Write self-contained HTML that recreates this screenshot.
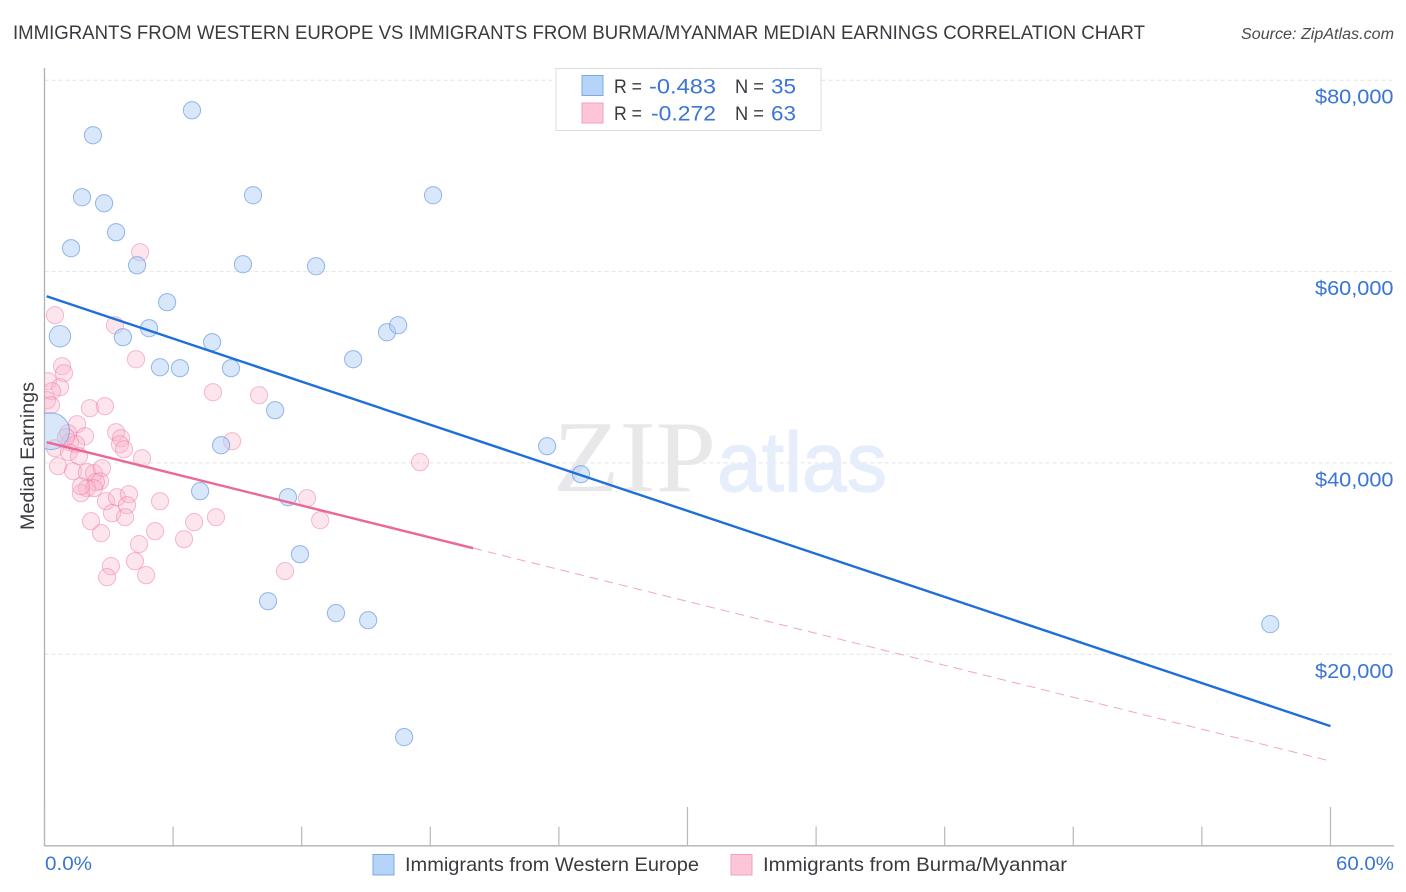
<!DOCTYPE html>
<html lang="en">
<head>
<meta charset="utf-8">
<title>Immigrants from Western Europe vs Immigrants from Burma/Myanmar Median Earnings Correlation Chart</title>
<style>
html,body{margin:0;padding:0;background:#fff;width:1406px;height:892px;overflow:hidden}
svg{display:block;font-family:"Liberation Sans",sans-serif}
</style>
</head>
<body>
<svg id="chart" xmlns="http://www.w3.org/2000/svg" width="1406" height="892" viewBox="0 0 1406 892">
  <defs>
    <clipPath id="plot-clip"><rect x="44.5" y="60" width="1350" height="786"/></clipPath>
  </defs>
  <rect x="0" y="0" width="1406" height="892" fill="#ffffff"/>
  <text x="13" y="39" font-size="19.5" fill="#3a3a40" textLength="1132" lengthAdjust="spacingAndGlyphs">IMMIGRANTS FROM WESTERN EUROPE VS IMMIGRANTS FROM BURMA/MYANMAR MEDIAN EARNINGS CORRELATION CHART</text>
  <text x="1241" y="39" font-size="15.5" font-style="italic" fill="#4a4a50" textLength="153" lengthAdjust="spacingAndGlyphs">Source: ZipAtlas.com</text>
  <g id="grid"></g>
  <g>
    <text x="553" y="491" font-family="'Liberation Serif',serif" font-size="102" fill="#e8e8ea" textLength="163" lengthAdjust="spacingAndGlyphs">ZIP</text>
    <text x="717" y="491" font-size="84" fill="#e6eefb" stroke="#e6eefb" stroke-width="1.2" textLength="170" lengthAdjust="spacingAndGlyphs">atlas</text>
  </g>
  <g id="axes"></g>
  <g id="points-pink" clip-path="url(#plot-clip)"></g>
  <g id="points-blue" clip-path="url(#plot-clip)"></g>
  <g id="trends"></g>
  <text transform="translate(34 530) rotate(-90)" x="0" y="0" font-size="19.5" fill="#3a3a40" textLength="148" lengthAdjust="spacingAndGlyphs">Median Earnings</text>
  <g id="ticklabels"></g>
  <g>
    <rect x="556" y="68.5" width="265" height="62" fill="#ffffff" stroke="#dcdcde" stroke-width="1"/>
    <rect x="582" y="75.5" width="21" height="20" fill="#b6d3f8" stroke="#7fa8e0" stroke-width="1"/>
    <rect x="582" y="103" width="21" height="20" fill="#fcc6d8" stroke="#f0a0bc" stroke-width="1"/>
    <text x="614" y="93" font-size="19.5" fill="#3a3a40" textLength="28" lengthAdjust="spacingAndGlyphs">R =</text>
    <text x="649" y="93.5" font-size="21" fill="#3a76d2" textLength="67" lengthAdjust="spacingAndGlyphs">-0.483</text>
    <text x="735" y="93" font-size="19.5" fill="#3a3a40" textLength="29" lengthAdjust="spacingAndGlyphs">N =</text>
    <text x="771" y="93.5" font-size="21" fill="#3a76d2" textLength="25" lengthAdjust="spacingAndGlyphs">35</text>
    <text x="614" y="120" font-size="19.5" fill="#3a3a40" textLength="28" lengthAdjust="spacingAndGlyphs">R =</text>
    <text x="651" y="120.5" font-size="21" fill="#3a76d2" textLength="65" lengthAdjust="spacingAndGlyphs">-0.272</text>
    <text x="735" y="120" font-size="19.5" fill="#3a3a40" textLength="29" lengthAdjust="spacingAndGlyphs">N =</text>
    <text x="771" y="120.5" font-size="21" fill="#3a76d2" textLength="25" lengthAdjust="spacingAndGlyphs">63</text>
  </g>
  <g>
    <rect x="373" y="854.5" width="21" height="20.5" fill="#b6d3f8" stroke="#7fa8e0" stroke-width="1"/>
    <text x="405" y="871" font-size="19.5" fill="#3a3a40" textLength="294" lengthAdjust="spacingAndGlyphs">Immigrants from Western Europe</text>
    <rect x="731" y="854.5" width="21" height="20.5" fill="#fcc6d8" stroke="#f0a0bc" stroke-width="1"/>
    <text x="763" y="871" font-size="19.5" fill="#3a3a40" textLength="304" lengthAdjust="spacingAndGlyphs">Immigrants from Burma/Myanmar</text>
  </g>
</svg>
<script>
// Chart data
const blueX = [6.88,2.26,1.75,2.78,9.73,18.13,3.34,1.24,4.32,9.26,12.67,5.72,4.88,0.72,3.66,7.82,15.98,16.50,14.40,5.39,6.32,8.70,10.76,0.30,8.24,23.45,25.03,7.26,11.36,11.92,10.43,13.60,15.10,16.78,57.19];
const blueY = [76860,74250,67770,67140,67980,67980,64110,62440,60660,60770,60560,56800,54080,53240,53140,52620,53660,54390,50840,50000,49900,49900,45510,43320,41850,41750,38820,37050,36420,30460,25550,24300,23560,11340,23150];
const blueWeight = [1,1,1,1,1,1,1,1,1,1,1,1,1,1.55,1,1,1,1,1,1,1,1,1,4.6,1,1,1,1,1,1,1,1,1,1,1];
const pinkX = [0.49,3.29,4.46,4.27,0.82,0.91,0.16,0.72,0.35,0.12,0.30,2.12,2.82,7.86,10.01,1.52,1.10,1.89,3.34,3.57,3.52,3.71,4.55,8.75,17.52,0.49,1.19,1.47,1.14,1.61,0.63,1.33,1.98,2.31,2.68,2.59,2.40,1.98,2.31,1.70,1.70,2.87,3.38,3.94,3.85,3.15,3.76,5.39,2.17,2.64,4.41,5.16,4.22,3.10,2.92,4.74,6.98,6.51,8.00,11.22,12.25,12.86,1.00];
const pinkY = [55440,54390,62020,50840,50110,49380,48540,47910,47500,46550,46030,45720,45930,47390,47080,44050,43110,42790,43210,42580,41960,41430,40490,42270,40080,41540,42170,41960,41120,40700,39660,39130,39030,38930,39450,38090,37990,37360,37360,36840,37570,36000,36420,36730,35580,34750,34330,36000,33910,32660,31510,32870,29730,29210,28060,28270,33810,32030,34330,28690,36310,34010,42690];
const blueTrendX = [0.1,60];
const blueTrendY = [57420,12490];
const pinkTrendX = [0.1,20];
const pinkTrendY = [42170,31090];
const pinkDashX = [20,60];
const pinkDashY = [31090,8830];
const yTicks = [20000,40000,60000,80000];
const yTickLabels = ["$20,000","$40,000","$60,000","$80,000"];
const xTicks = [0,6,12,18,24,30,36,42,48,54,60];
const xMajorTicks = [0,30,60];
const xTickLabels = ["0.0%","60.0%"];

const NS = "http://www.w3.org/2000/svg";
function xPos(v){ return 44.5 + v * 21.433; }
function yPos(v){ return 845.6 - v * 0.009567; }
function make(tag, parentId, attrs){
  const el = document.createElementNS(NS, tag);
  for (const k in attrs) el.setAttribute(k, attrs[k]);
  document.getElementById(parentId).appendChild(el);
  return el;
}

// Gridlines
yTicks.forEach(function(t){
  const el = make("line", "grid", {x1:44.5, x2:1394, y1:yPos(t), y2:yPos(t), stroke:"#e4e4e6", "stroke-width":1, "stroke-dasharray":"4 3"});
  
  
});

// Axes
const ySpine = make("line", "axes", {x1:44.5, x2:44.5, y1:68, y2:846, stroke:"#b0b0b2", "stroke-width":1.3});


const xSpine = make("line", "axes", {x1:44, x2:1394, y1:845.8, y2:845.8, stroke:"#b0b0b2", "stroke-width":1.3});


xTicks.forEach(function(t){
  const top = xMajorTicks.indexOf(t) >= 0 ? 807 : 826.5;
  const el = make("line", "axes", {x1:xPos(t), x2:xPos(t), y1:top, y2:846, stroke:"#b8b8ba", "stroke-width":1.2});
  
  
});

// Points
pinkX.forEach(function(x, i){
  const el = make("circle", "points-pink", {cx:xPos(x), cy:yPos(pinkY[i]), r:8.6, fill:"#f9b4cb", "fill-opacity":0.34, stroke:"#ee7ba2", "stroke-opacity":0.5, "stroke-width":1});
  
  
});
blueX.forEach(function(x, i){
  const r = 8.6 * Math.sqrt(blueWeight[i]);
  const el = make("circle", "points-blue", {cx:xPos(x), cy:yPos(blueY[i]), r:r, fill:"#b3cff6", "fill-opacity":0.5, stroke:"#6a9be0", "stroke-opacity":0.7, "stroke-width":1});
  
  
});

// Trend lines
const trendBlue = make("line", "trends", {x1:xPos(blueTrendX[0]), y1:yPos(blueTrendY[0]), x2:xPos(blueTrendX[1]), y2:yPos(blueTrendY[1]), stroke:"#1f6fd8", "stroke-width":2.4});


const trendPink = make("line", "trends", {x1:xPos(pinkTrendX[0]), y1:yPos(pinkTrendY[0]), x2:xPos(pinkTrendX[1]), y2:yPos(pinkTrendY[1]), stroke:"#ec6796", "stroke-width":2.4});


const trendDash = make("line", "trends", {x1:xPos(pinkDashX[0]), y1:yPos(pinkDashY[0]), x2:xPos(pinkDashX[1]), y2:yPos(pinkDashY[1]), stroke:"#ec6796", "stroke-width":1, "stroke-opacity":0.6, "stroke-dasharray":"9 6"});



// Tick labels
yTicks.forEach(function(t, i){
  const el = make("text", "ticklabels", {x:1393.5, y:yPos(t)+23.5, "text-anchor":"end", "font-size":20, fill:"#3a76d2", textLength:78.5, lengthAdjust:"spacingAndGlyphs"});
  
  
  el.textContent = yTickLabels[i];
});
const x0Label = make("text", "ticklabels", {x:45, y:870, "font-size":19.5, fill:"#3a76d2", textLength:47, lengthAdjust:"spacingAndGlyphs"});


x0Label.textContent = xTickLabels[0];
const x60Label = make("text", "ticklabels", {x:1336, y:870, "font-size":19.5, fill:"#3a76d2", textLength:58, lengthAdjust:"spacingAndGlyphs"});


x60Label.textContent = xTickLabels[1];
</script>
</body>
</html>
